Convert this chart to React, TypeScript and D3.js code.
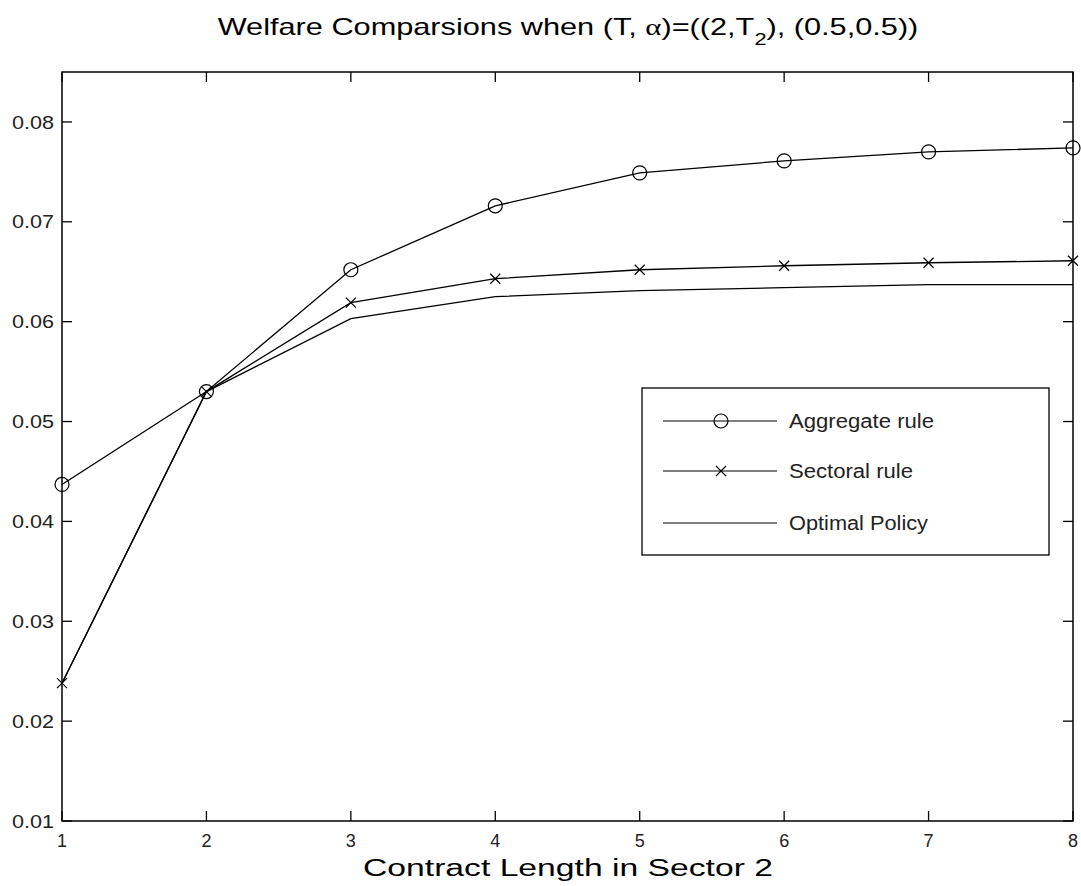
import React from 'react';
import * as d3 from 'd3';

const contractLengths = [1, 2, 3, 4, 5, 6, 7, 8];
const aggregateRule = [0.0437, 0.053, 0.0652, 0.0716, 0.0749, 0.0761, 0.077, 0.0774];
const sectoralRule = [0.0238, 0.053, 0.0619, 0.0643, 0.0652, 0.0656, 0.0659, 0.0661];
const optimalPolicy = [0.0238, 0.053, 0.0603, 0.0625, 0.0631, 0.0634, 0.0637, 0.0637];
const yTicks = [0.01, 0.02, 0.03, 0.04, 0.05, 0.06, 0.07, 0.08];
const legendLabels = ['Aggregate rule', 'Sectoral rule', 'Optimal Policy'];

const width = 1081;
const height = 886;
const margin = { top: 72, right: 8, bottom: 65, left: 62 };
const font = 'Liberation Sans, Arial, sans-serif';

const App: React.FC = () => {
  const x = d3.scaleLinear()
    .domain([1, 8])
    .range([margin.left, width - margin.right]);
  const y = d3.scaleLinear()
    .domain([0.01, 0.085])
    .range([height - margin.bottom, margin.top]);

  const line = d3.line<number>()
    .x((_, i) => x(contractLengths[i]))
    .y(d => y(d));

  const series = [aggregateRule, sectoralRule, optimalPolicy];
  const markers = ['circle', 'x', 'none'];

  const [x0, x1] = x.range();
  const [yb, yt] = y.range();
  const tickLen = 10;

  const drawMarker = (kind: string, cx: number, cy: number, key: string) => {
    if (kind === 'circle') {
      return <circle key={key} cx={cx} cy={cy} r={7} fill="none" stroke="#000" strokeWidth={1.2} />;
    }
    if (kind === 'x') {
      const s = 5;
      return (
        <path key={key} d={`M${cx - s},${cy - s}L${cx + s},${cy + s}M${cx - s},${cy + s}L${cx + s},${cy - s}`}
          stroke="#000" strokeWidth={1.2} />
      );
    }
    return null;
  };

  const legend = { left: 642, top: 388, right: 1049, bottom: 555 };
  const legendRows = [421, 471, 523];
  const legendWidths = [145, 124, 139];

  return (
    <svg width={width} height={height} style={{ position: 'absolute', left: 0, top: 0, background: '#fff' }}>
      <rect width={width} height={height} fill="#fff" />
      <g transform="translate(568,35) scale(1.28,1)">
        <text x={0} y={0} textAnchor="middle" fontFamily={font} fontSize={24} fill="#000">
          Welfare Comparsions when (T, <tspan fontFamily="Liberation Serif, serif">α</tspan>)=((2,T
          <tspan dy={10} fontSize={17}>2</tspan><tspan dy={-10}>), (0.5,0.5))</tspan>
        </text>
      </g>

      {/* axes box */}
      <rect x={x0} y={yt} width={x1 - x0} height={yb - yt} fill="none" stroke="#000" strokeWidth={1.5} />

      {yTicks.map(t => (
        <g key={`y${t}`}>
          <line x1={x0} x2={x0 + tickLen} y1={y(t)} y2={y(t)} stroke="#000" strokeWidth={1.3} />
          <line x1={x1} x2={x1 - tickLen} y1={y(t)} y2={y(t)} stroke="#000" strokeWidth={1.3} />
          <text x={x0 - 50} y={y(t)} dy="0.35em" textLength={42} lengthAdjust="spacingAndGlyphs"
            fontFamily={font} fontSize={19} fill="#222">
            {t.toFixed(2)}
          </text>
        </g>
      ))}

      {contractLengths.map(c => (
        <g key={`x${c}`}>
          <line x1={x(c)} x2={x(c)} y1={yb} y2={yb - tickLen} stroke="#000" strokeWidth={1.3} />
          <line x1={x(c)} x2={x(c)} y1={yt} y2={yt + tickLen} stroke="#000" strokeWidth={1.3} />
          <text x={x(c)} y={yb + 20} dy="0.35em" textAnchor="middle" fontFamily={font} fontSize={18} fill="#222">
            {c}
          </text>
        </g>
      ))}

      <text x={568 - 205} y={876} textLength={410} lengthAdjust="spacingAndGlyphs"
        fontFamily={font} fontSize={23} fill="#000">
        Contract Length in Sector 2
      </text>

      {series.map((s, si) => (
        <g key={`s${si}`}>
          <path d={line(s) || ''} fill="none" stroke="#000" strokeWidth={1.3} />
          {s.map((v, i) => drawMarker(markers[si], x(contractLengths[i]), y(v), `m${si}-${i}`))}
        </g>
      ))}

      <rect x={legend.left} y={legend.top} width={legend.right - legend.left} height={legend.bottom - legend.top}
        fill="#fff" stroke="#000" strokeWidth={1.3} />
      {legendLabels.map((lab, i) => (
        <g key={lab}>
          <line x1={663} x2={777} y1={legendRows[i]} y2={legendRows[i]} stroke="#000" strokeWidth={1.2} />
          {drawMarker(markers[i], 721, legendRows[i], `lm${i}`)}
          <text x={789} y={legendRows[i]} dy="0.35em" textLength={legendWidths[i]} lengthAdjust="spacingAndGlyphs"
            fontFamily={font} fontSize={20} fill="#222">{lab}</text>
        </g>
      ))}
    </svg>
  );
};

export default App;
